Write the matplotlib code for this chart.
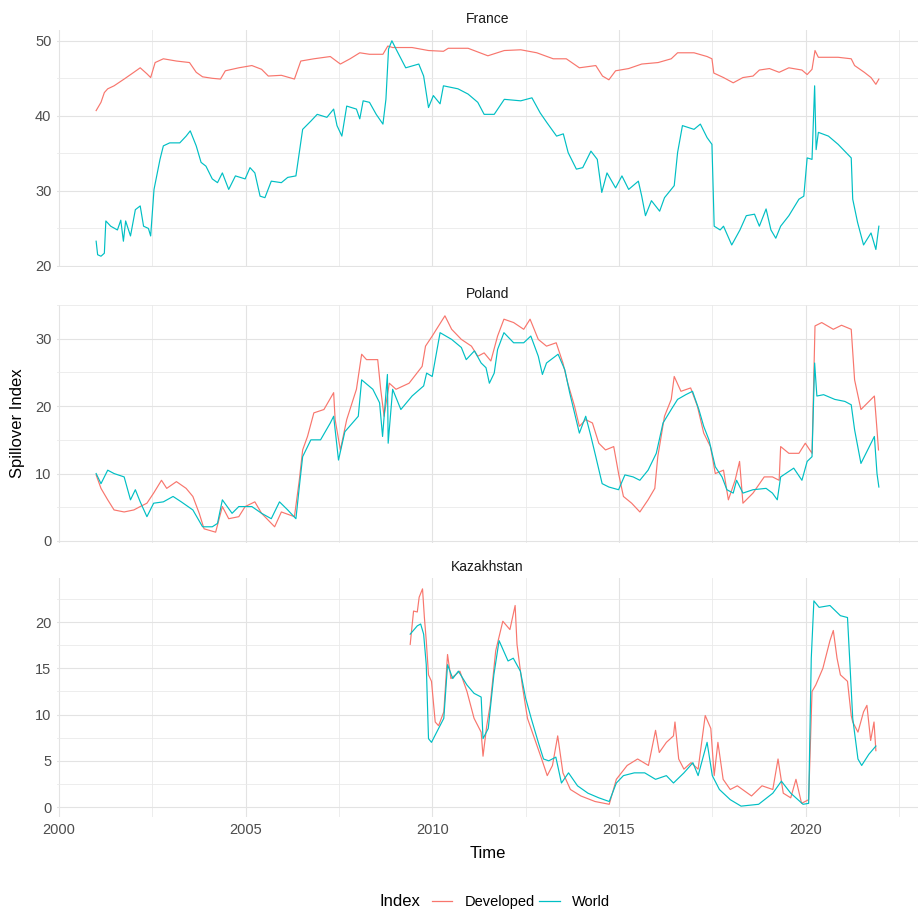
import matplotlib
matplotlib.use("Agg")
import matplotlib.pyplot as plt
from matplotlib.ticker import MultipleLocator
from matplotlib.lines import Line2D

plt.rcParams['font.family'] = ['Liberation Sans', 'DejaVu Sans']

# values (year, spillover index)
france_dev_t = [2001.00, 2001.13, 2001.22, 2001.31, 2001.48, 2001.75, 2002.01, 2002.18, 2002.36, 2002.46,
                2002.58, 2002.80, 2003.15, 2003.50, 2003.68, 2003.85, 2004.11, 2004.33, 2004.46, 2004.82,
                2005.17, 2005.43, 2005.61, 2005.96, 2006.31, 2006.48, 2006.83, 2007.27, 2007.54, 2007.80,
                2008.06, 2008.32, 2008.68, 2008.81, 2008.94, 2009.46, 2009.90, 2010.30, 2010.43, 2010.96,
                2011.49, 2011.93, 2012.37, 2012.80, 2013.24, 2013.59, 2013.94, 2014.38, 2014.56, 2014.73,
                2014.91, 2015.26, 2015.61, 2016.05, 2016.40, 2016.57, 2017.01, 2017.36, 2017.49, 2017.54,
                2017.80, 2018.06, 2018.32, 2018.59, 2018.76, 2019.03, 2019.29, 2019.55, 2019.90, 2020.04,
                2020.17, 2020.25, 2020.34, 2020.87, 2021.22, 2021.31, 2021.57, 2021.75, 2021.88, 2021.96]
france_dev_v = [40.7, 41.8, 43.1, 43.6, 44.0, 44.9, 45.8, 46.4, 45.6, 45.1,
                47.1, 47.6, 47.3, 47.1, 45.8, 45.2, 45.0, 44.9, 46.0, 46.4,
                46.7, 46.2, 45.3, 45.4, 44.9, 47.3, 47.6, 47.9, 46.9, 47.6,
                48.4, 48.2, 48.2, 49.3, 49.1, 49.1, 48.7, 48.6, 49.0, 49.0,
                48.0, 48.7, 48.8, 48.4, 47.6, 47.6, 46.4, 46.7, 45.3, 44.8,
                46.0, 46.3, 46.9, 47.1, 47.6, 48.4, 48.4, 47.9, 47.6, 45.7,
                45.1, 44.4, 45.1, 45.3, 46.1, 46.3, 45.8, 46.4, 46.1, 45.5,
                46.2, 48.7, 47.8, 47.8, 47.6, 46.7, 45.8, 45.1, 44.2, 44.9]

france_world_t = [2001.00, 2001.04, 2001.13, 2001.22, 2001.26, 2001.39, 2001.57, 2001.66, 2001.73, 2001.79,
                  2001.92, 2002.05, 2002.18, 2002.27, 2002.40, 2002.46, 2002.55, 2002.71, 2002.80, 2002.97,
                  2003.24, 2003.41, 2003.52, 2003.68, 2003.81, 2003.94, 2004.11, 2004.25, 2004.38, 2004.55,
                  2004.73, 2004.99, 2005.12, 2005.25, 2005.39, 2005.52, 2005.69, 2005.96, 2006.13, 2006.35,
                  2006.44, 2006.53, 2006.75, 2006.92, 2007.18, 2007.36, 2007.45, 2007.58, 2007.71, 2007.97,
                  2008.06, 2008.15, 2008.32, 2008.50, 2008.68, 2008.76, 2008.83, 2008.92, 2009.03, 2009.29,
                  2009.64, 2009.77, 2009.90, 2010.03, 2010.21, 2010.30, 2010.69, 2010.96, 2011.22, 2011.39,
                  2011.66, 2011.93, 2012.37, 2012.67, 2012.89, 2013.07, 2013.33, 2013.51, 2013.64, 2013.86,
                  2014.03, 2014.25, 2014.42, 2014.54, 2014.68, 2014.91, 2015.08, 2015.26, 2015.52, 2015.61,
                  2015.71, 2015.87, 2016.09, 2016.22, 2016.48, 2016.57, 2016.70, 2017.01, 2017.18, 2017.36,
                  2017.49, 2017.55, 2017.71, 2017.80, 2018.02, 2018.24, 2018.41, 2018.63, 2018.76, 2018.94,
                  2019.07, 2019.20, 2019.33, 2019.55, 2019.82, 2019.95, 2020.04, 2020.17, 2020.24, 2020.28,
                  2020.34, 2020.61, 2020.87, 2021.22, 2021.26, 2021.39, 2021.55, 2021.75, 2021.88, 2021.96]
france_world_v = [23.3, 21.5, 21.3, 21.7, 26.0, 25.3, 24.8, 26.1, 23.3, 26.0,
                  24.0, 27.5, 28.0, 25.3, 25.0, 24.0, 30.2, 34.2, 36.0, 36.4,
                  36.4, 37.3, 38.0, 36.0, 33.8, 33.3, 31.6, 31.1, 32.4, 30.2,
                  32.0, 31.6, 33.1, 32.4, 29.3, 29.1, 31.3, 31.1, 31.8, 32.0,
                  35.1, 38.2, 39.3, 40.2, 39.8, 40.9, 38.7, 37.3, 41.3, 40.9,
                  39.6, 42.0, 41.8, 40.2, 38.9, 42.2, 48.9, 50.0, 48.9, 46.4,
                  46.9, 45.3, 41.1, 42.7, 41.6, 44.0, 43.6, 42.9, 41.8, 40.2,
                  40.2, 42.2, 42.0, 42.4, 40.4, 39.1, 37.3, 37.6, 35.1, 32.9,
                  33.1, 35.3, 34.2, 29.8, 32.4, 30.4, 32.0, 30.2, 31.3, 29.3,
                  26.7, 28.7, 27.3, 29.1, 30.7, 35.1, 38.7, 38.2, 38.9, 37.1,
                  36.2, 25.3, 24.8, 25.3, 22.8, 24.8, 26.7, 26.9, 25.3, 27.6,
                  24.8, 23.7, 25.3, 26.7, 28.9, 29.3, 34.4, 34.2, 44.0, 35.5,
                  37.8, 37.3, 36.2, 34.4, 28.9, 25.8, 22.8, 24.4, 22.2, 25.3]

poland_dev_t = [2001.00, 2001.13, 2001.31, 2001.48, 2001.75, 2002.01, 2002.18, 2002.36, 2002.54, 2002.75,
                2002.89, 2003.15, 2003.41, 2003.59, 2003.76, 2003.89, 2004.20, 2004.38, 2004.55, 2004.82,
                2004.99, 2005.25, 2005.43, 2005.78, 2005.96, 2006.31, 2006.44, 2006.53, 2006.66, 2006.83,
                2007.10, 2007.36, 2007.40, 2007.54, 2007.71, 2007.97, 2008.11, 2008.24, 2008.54, 2008.62,
                2008.71, 2008.85, 2009.03, 2009.38, 2009.73, 2009.82, 2010.00, 2010.34, 2010.52, 2010.78,
                2011.05, 2011.22, 2011.39, 2011.57, 2011.75, 2011.92, 2012.18, 2012.45, 2012.62, 2012.84,
                2013.06, 2013.32, 2013.50, 2013.63, 2013.81, 2013.94, 2014.11, 2014.29, 2014.46, 2014.64,
                2014.86, 2014.99, 2015.12, 2015.34, 2015.56, 2015.78, 2015.96, 2016.04, 2016.22, 2016.40,
                2016.48, 2016.66, 2016.92, 2017.10, 2017.27, 2017.45, 2017.58, 2017.80, 2017.93, 2018.11,
                2018.23, 2018.32, 2018.59, 2018.89, 2019.11, 2019.29, 2019.33, 2019.55, 2019.82, 2019.99,
                2020.17, 2020.25, 2020.43, 2020.74, 2020.96, 2021.22, 2021.31, 2021.48, 2021.66, 2021.84,
                2021.91, 2021.95]
poland_dev_v = [9.8, 7.8, 6.1, 4.6, 4.3, 4.6, 5.1, 5.6, 7.1, 9.0,
                7.8, 8.8, 7.8, 6.6, 4.1, 1.8, 1.3, 5.1, 3.3, 3.6,
                5.1, 5.8, 4.1, 2.1, 4.3, 3.6, 9.0, 13.5, 15.5, 19.0,
                19.5, 22.0, 18.0, 13.5, 18.0, 22.5, 27.7, 26.9, 26.9, 22.5,
                18.5, 23.4, 22.5, 23.4, 25.9, 28.9, 30.4, 33.4, 31.4, 29.9,
                28.9, 27.4, 27.9, 26.7, 30.4, 32.9, 32.4, 31.4, 32.9, 29.9,
                28.9, 29.4, 26.4, 23.4, 20.0, 17.0, 18.0, 17.5, 14.5, 13.5,
                14.0, 10.0, 6.6, 5.6, 4.3, 6.1, 7.8, 12.5, 18.5, 21.0,
                24.4, 22.2, 22.7, 20.0, 16.0, 14.0, 10.0, 10.5, 6.1, 9.0,
                11.8, 5.6, 7.1, 9.5, 9.5, 9.0, 14.0, 13.0, 13.0, 14.5,
                13.0, 31.9, 32.4, 31.4, 32.0, 31.4, 23.9, 19.5, 20.5, 21.5,
                16.5, 13.5]

poland_world_t = [2001.00, 2001.13, 2001.31, 2001.48, 2001.75, 2001.92, 2002.05, 2002.18, 2002.36, 2002.54,
                  2002.80, 2003.06, 2003.28, 2003.59, 2003.85, 2004.11, 2004.25, 2004.38, 2004.64, 2004.82,
                  2005.17, 2005.43, 2005.69, 2005.91, 2006.13, 2006.35, 2006.44, 2006.53, 2006.75, 2007.01,
                  2007.27, 2007.36, 2007.49, 2007.66, 2008.02, 2008.11, 2008.41, 2008.59, 2008.67, 2008.80,
                  2008.82, 2008.94, 2009.16, 2009.46, 2009.77, 2009.85, 2010.00, 2010.21, 2010.52, 2010.78,
                  2010.91, 2011.13, 2011.31, 2011.44, 2011.53, 2011.66, 2011.75, 2011.92, 2012.18, 2012.45,
                  2012.64, 2012.84, 2012.95, 2013.06, 2013.37, 2013.55, 2013.68, 2013.81, 2013.94, 2014.11,
                  2014.25, 2014.38, 2014.55, 2014.73, 2014.99, 2015.16, 2015.38, 2015.56, 2015.78, 2016.00,
                  2016.18, 2016.40, 2016.57, 2016.79, 2016.97, 2017.14, 2017.27, 2017.41, 2017.58, 2017.76,
                  2017.89, 2018.06, 2018.15, 2018.32, 2018.59, 2018.94, 2019.11, 2019.24, 2019.33, 2019.68,
                  2019.90, 2020.04, 2020.17, 2020.24, 2020.30, 2020.48, 2020.78, 2021.05, 2021.22, 2021.31,
                  2021.48, 2021.66, 2021.84, 2021.91, 2021.96]
poland_world_v = [10.0, 8.5, 10.5, 10.0, 9.5, 6.1, 7.6, 5.8, 3.6, 5.6,
                  5.8, 6.6, 5.8, 4.6, 2.1, 2.1, 2.6, 6.1, 4.1, 5.1,
                  5.1, 4.1, 3.3, 5.8, 4.6, 3.3, 8.0, 12.5, 15.0, 15.0,
                  17.5, 18.5, 12.0, 16.2, 18.5, 23.9, 22.5, 20.5, 15.5, 24.7,
                  14.5, 22.5, 19.5, 21.5, 23.0, 24.9, 24.4, 30.9, 29.9, 28.7,
                  26.9, 28.2, 26.4, 25.7, 23.4, 24.9, 28.4, 30.9, 29.4, 29.4,
                  30.4, 27.4, 24.7, 26.4, 27.7, 25.4, 22.0, 19.0, 16.0, 18.5,
                  15.5, 12.5, 8.5, 8.0, 7.6, 9.8, 9.5, 9.0, 10.5, 13.0,
                  17.5, 19.5, 21.0, 21.7, 22.2, 19.5, 17.0, 15.0, 11.0, 9.5,
                  7.6, 7.1, 9.0, 7.1, 7.6, 7.8, 7.1, 6.1, 9.5, 10.8,
                  9.0, 11.8, 12.5, 26.4, 21.5, 21.7, 21.0, 20.7, 20.2, 16.5,
                  11.5, 13.5, 15.5, 10.0, 8.0]

kaz_dev_t = [2009.41, 2009.50, 2009.60, 2009.65, 2009.74, 2009.79, 2009.84, 2009.90, 2009.98, 2010.08,
             2010.17, 2010.31, 2010.41, 2010.50, 2010.74, 2010.93, 2011.12, 2011.31, 2011.36, 2011.46,
             2011.55, 2011.70, 2011.89, 2012.08, 2012.22, 2012.27, 2012.41, 2012.55, 2012.74, 2012.93,
             2013.08, 2013.22, 2013.36, 2013.50, 2013.70, 2013.98, 2014.36, 2014.74, 2014.93, 2015.22,
             2015.50, 2015.79, 2015.98, 2016.08, 2016.27, 2016.46, 2016.50, 2016.60, 2016.74, 2016.93,
             2017.12, 2017.31, 2017.46, 2017.55, 2017.65, 2017.79, 2017.98, 2018.17, 2018.55, 2018.83,
             2019.12, 2019.26, 2019.40, 2019.60, 2019.74, 2019.89, 2020.08, 2020.17, 2020.27, 2020.46,
             2020.65, 2020.74, 2020.84, 2020.93, 2021.12, 2021.22, 2021.26, 2021.40, 2021.55, 2021.64,
             2021.74, 2021.83, 2021.88]
kaz_dev_v = [17.6, 21.2, 21.1, 22.7, 23.6, 20.5, 18.0, 14.3, 13.6, 9.2,
             8.8, 10.3, 16.5, 13.9, 14.7, 12.5, 9.6, 8.1, 5.5, 8.8,
             11.0, 16.9, 20.1, 19.2, 21.8, 17.6, 13.2, 9.6, 7.4, 5.2,
             3.4, 4.5, 7.7, 3.7, 1.9, 1.2, 0.6, 0.3, 3.0, 4.5,
             5.2, 4.5, 8.3, 5.9, 7.0, 7.7, 9.2, 5.2, 4.1, 4.8,
             4.1, 9.9, 8.5, 3.4, 7.0, 3.0, 1.9, 2.3, 1.2, 2.3,
             1.9, 5.2, 1.5, 1.0, 3.0, 0.4, 0.8, 12.5, 13.2, 15.0,
             18.0, 19.1, 16.1, 14.3, 13.6, 9.9, 9.2, 8.1, 10.3, 11.0,
             7.2, 9.2, 6.1]

kaz_world_t = [2009.41, 2009.60, 2009.69, 2009.77, 2009.84, 2009.90, 2009.98, 2010.17, 2010.31, 2010.41,
               2010.55, 2010.70, 2010.93, 2011.12, 2011.31, 2011.36, 2011.50, 2011.65, 2011.79, 2012.03,
               2012.17, 2012.36, 2012.50, 2012.65, 2012.84, 2012.98, 2013.12, 2013.31, 2013.46, 2013.65,
               2013.89, 2014.17, 2014.46, 2014.74, 2014.93, 2015.12, 2015.41, 2015.69, 2015.98, 2016.27,
               2016.46, 2016.74, 2016.98, 2017.12, 2017.36, 2017.50, 2017.69, 2017.98, 2018.27, 2018.74,
               2019.12, 2019.35, 2019.60, 2019.93, 2020.08, 2020.15, 2020.22, 2020.36, 2020.65, 2020.93,
               2021.12, 2021.20, 2021.26, 2021.40, 2021.50, 2021.69, 2021.88]
kaz_world_v = [18.7, 19.6, 19.8, 18.7, 15.4, 7.4, 7.0, 8.5, 9.6, 15.4,
               13.9, 14.7, 13.2, 12.3, 11.9, 7.4, 8.5, 14.3, 18.0, 15.8,
               16.1, 14.7, 11.8, 9.6, 7.0, 5.2, 5.0, 5.4, 2.6, 3.7,
               2.3, 1.5, 1.0, 0.6, 2.6, 3.4, 3.7, 3.7, 3.0, 3.4,
               2.6, 3.7, 4.8, 3.4, 7.0, 3.4, 1.9, 0.8, 0.1, 0.3,
               1.5, 2.8, 1.5, 0.3, 0.4, 16.1, 22.3, 21.6, 21.8, 20.7,
               20.5, 14.3, 9.6, 5.2, 4.5, 5.7, 6.6]

countries = ["France", "Poland", "Kazakhstan"]
series = {
    "France": [(france_dev_t, france_dev_v), (france_world_t, france_world_v)],
    "Poland": [(poland_dev_t, poland_dev_v), (poland_world_t, poland_world_v)],
    "Kazakhstan": [(kaz_dev_t, kaz_dev_v), (kaz_world_t, kaz_world_v)],
}
index_names = ["Developed", "World"]
colors = ["#F8766D", "#00BFC4"]
major_step = {"France": 10, "Poland": 10, "Kazakhstan": 5}

fig = plt.figure(figsize=(9.19, 9.10), dpi=100)
W, H = 919, 910
panel_px = {"France": (30, 267), "Poland": (305, 543), "Kazakhstan": (578, 817)}
left, right = 57, 918

axes = []
for name in countries:
    top, bot = panel_px[name]
    ax = fig.add_axes([left / W, 1 - bot / H, (right - left) / W, (bot - top) / H],
                      sharex=axes[0] if axes else None)
    axes.append(ax)
    for (t, v), c in zip(series[name], colors):
        ax.plot(t, v, color=c, lw=0.85)
    ax.margins(x=0.05, y=0.05)
    step = major_step[name]
    ax.yaxis.set_major_locator(MultipleLocator(step))
    ax.yaxis.set_minor_locator(MultipleLocator(step / 2))
    ax.xaxis.set_major_locator(MultipleLocator(5))
    ax.xaxis.set_minor_locator(MultipleLocator(2.5))
    ax.grid(which="major", color="#E3E3E3", lw=0.8)
    ax.grid(which="minor", color="#EAEAEA", lw=0.6)
    ax.set_axisbelow(True)
    for s in ax.spines.values():
        s.set_visible(False)
    ax.tick_params(which="both", length=0, labelsize=10.5, labelcolor="#4D4D4D", pad=4)
    ax.set_title(name, fontsize=10, color="#1A1A1A", pad=5)
    if name != "Kazakhstan":
        ax.tick_params(axis="x", labelbottom=False)

axes[-1].set_xlabel("Time", fontsize=12, color="#000000", labelpad=7)
fig.text(18 / W, 1 - 423 / H, "Spillover Index", rotation=90, fontsize=12,
         ha="center", va="center")

fig.text(400 / W, 1 - 902 / H, "Index", fontsize=12, ha="center", va="center")
handles = [Line2D([], [], color=c, lw=0.9) for c in colors]
fig.legend(handles, index_names, ncol=2, loc="center left",
           bbox_to_anchor=(432 / W, 1 - 902 / H), frameon=False, fontsize=10.5,
           handlelength=1.4, handletextpad=0.85, columnspacing=0.3, borderaxespad=0,
           borderpad=0)

fig.savefig("out.png", dpi=100)
